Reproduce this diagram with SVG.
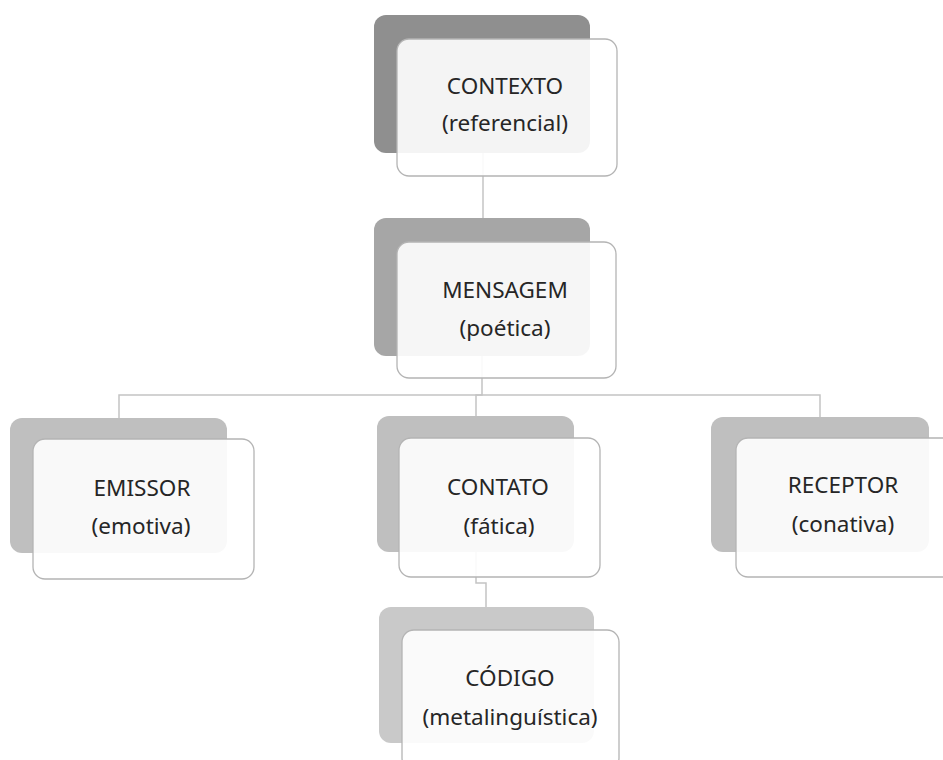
<svg xmlns="http://www.w3.org/2000/svg" width="943" height="760" viewBox="0 0 943 760">
<style>
.bg{fill:#ffffff}
.conn{fill:none;stroke:#c4c4c4;stroke-width:1.5}
.front{fill:#ffffff;fill-opacity:0.9;stroke:#b4b4b4;stroke-width:1.3}
.t{font-family:"Noto Sans","Open Sans",sans-serif;font-size:22.5px;fill:#262626;text-anchor:middle}
</style>
<rect class="bg" x="0" y="0" width="943" height="760"/>
<g id="connectors">
<path class="conn" d="M483 153 V218"/>
<path class="conn" d="M482 356 V395 H119 V418"/>
<path class="conn" d="M482 395 H476 V416"/>
<path class="conn" d="M482 395 H820 V417"/>
<path class="conn" d="M476 552 V583 H486 V607"/>
</g>
<g id="contexto">
<rect x="374" y="15" width="216" height="138" rx="12" fill="#8f8f8f"/>
<rect class="front" x="397" y="39" width="220" height="137" rx="12"/>
<text class="t" x="505" y="94">CONTEXTO</text>
<text class="t" x="505" y="131">(referencial)</text>
</g>
<g id="mensagem">
<rect x="374" y="218" width="216" height="138" rx="12" fill="#a6a6a6"/>
<rect class="front" x="397" y="242" width="219" height="136" rx="12"/>
<text class="t" x="505" y="298">MENSAGEM</text>
<text class="t" x="505" y="336">(poética)</text>
</g>
<g id="emissor">
<rect x="10" y="418" width="217" height="135" rx="12" fill="#bfbfbf"/>
<rect class="front" x="33" y="439" width="221" height="140" rx="12"/>
<text class="t" x="142" y="496">EMISSOR</text>
<text class="t" x="141" y="534">(emotiva)</text>
</g>
<g id="contato">
<rect x="377" y="416" width="197" height="136" rx="12" fill="#bfbfbf"/>
<rect class="front" x="399" y="438" width="201" height="139" rx="12"/>
<text class="t" x="498" y="495">CONTATO</text>
<text class="t" x="499" y="534">(fática)</text>
</g>
<g id="receptor">
<rect x="711" y="417" width="218" height="135" rx="12" fill="#bfbfbf"/>
<rect class="front" x="736" y="438" width="220" height="139" rx="12"/>
<text class="t" x="843" y="493">RECEPTOR</text>
<text class="t" x="843" y="532">(conativa)</text>
</g>
<g id="codigo">
<rect x="379" y="607" width="215" height="136" rx="12" fill="#c9c9c9"/>
<rect class="front" x="402" y="630" width="217" height="140" rx="12"/>
<text class="t" x="510" y="686">CÓDIGO</text>
<text class="t" x="510" y="725">(metalinguística)</text>
</g>
</svg>
